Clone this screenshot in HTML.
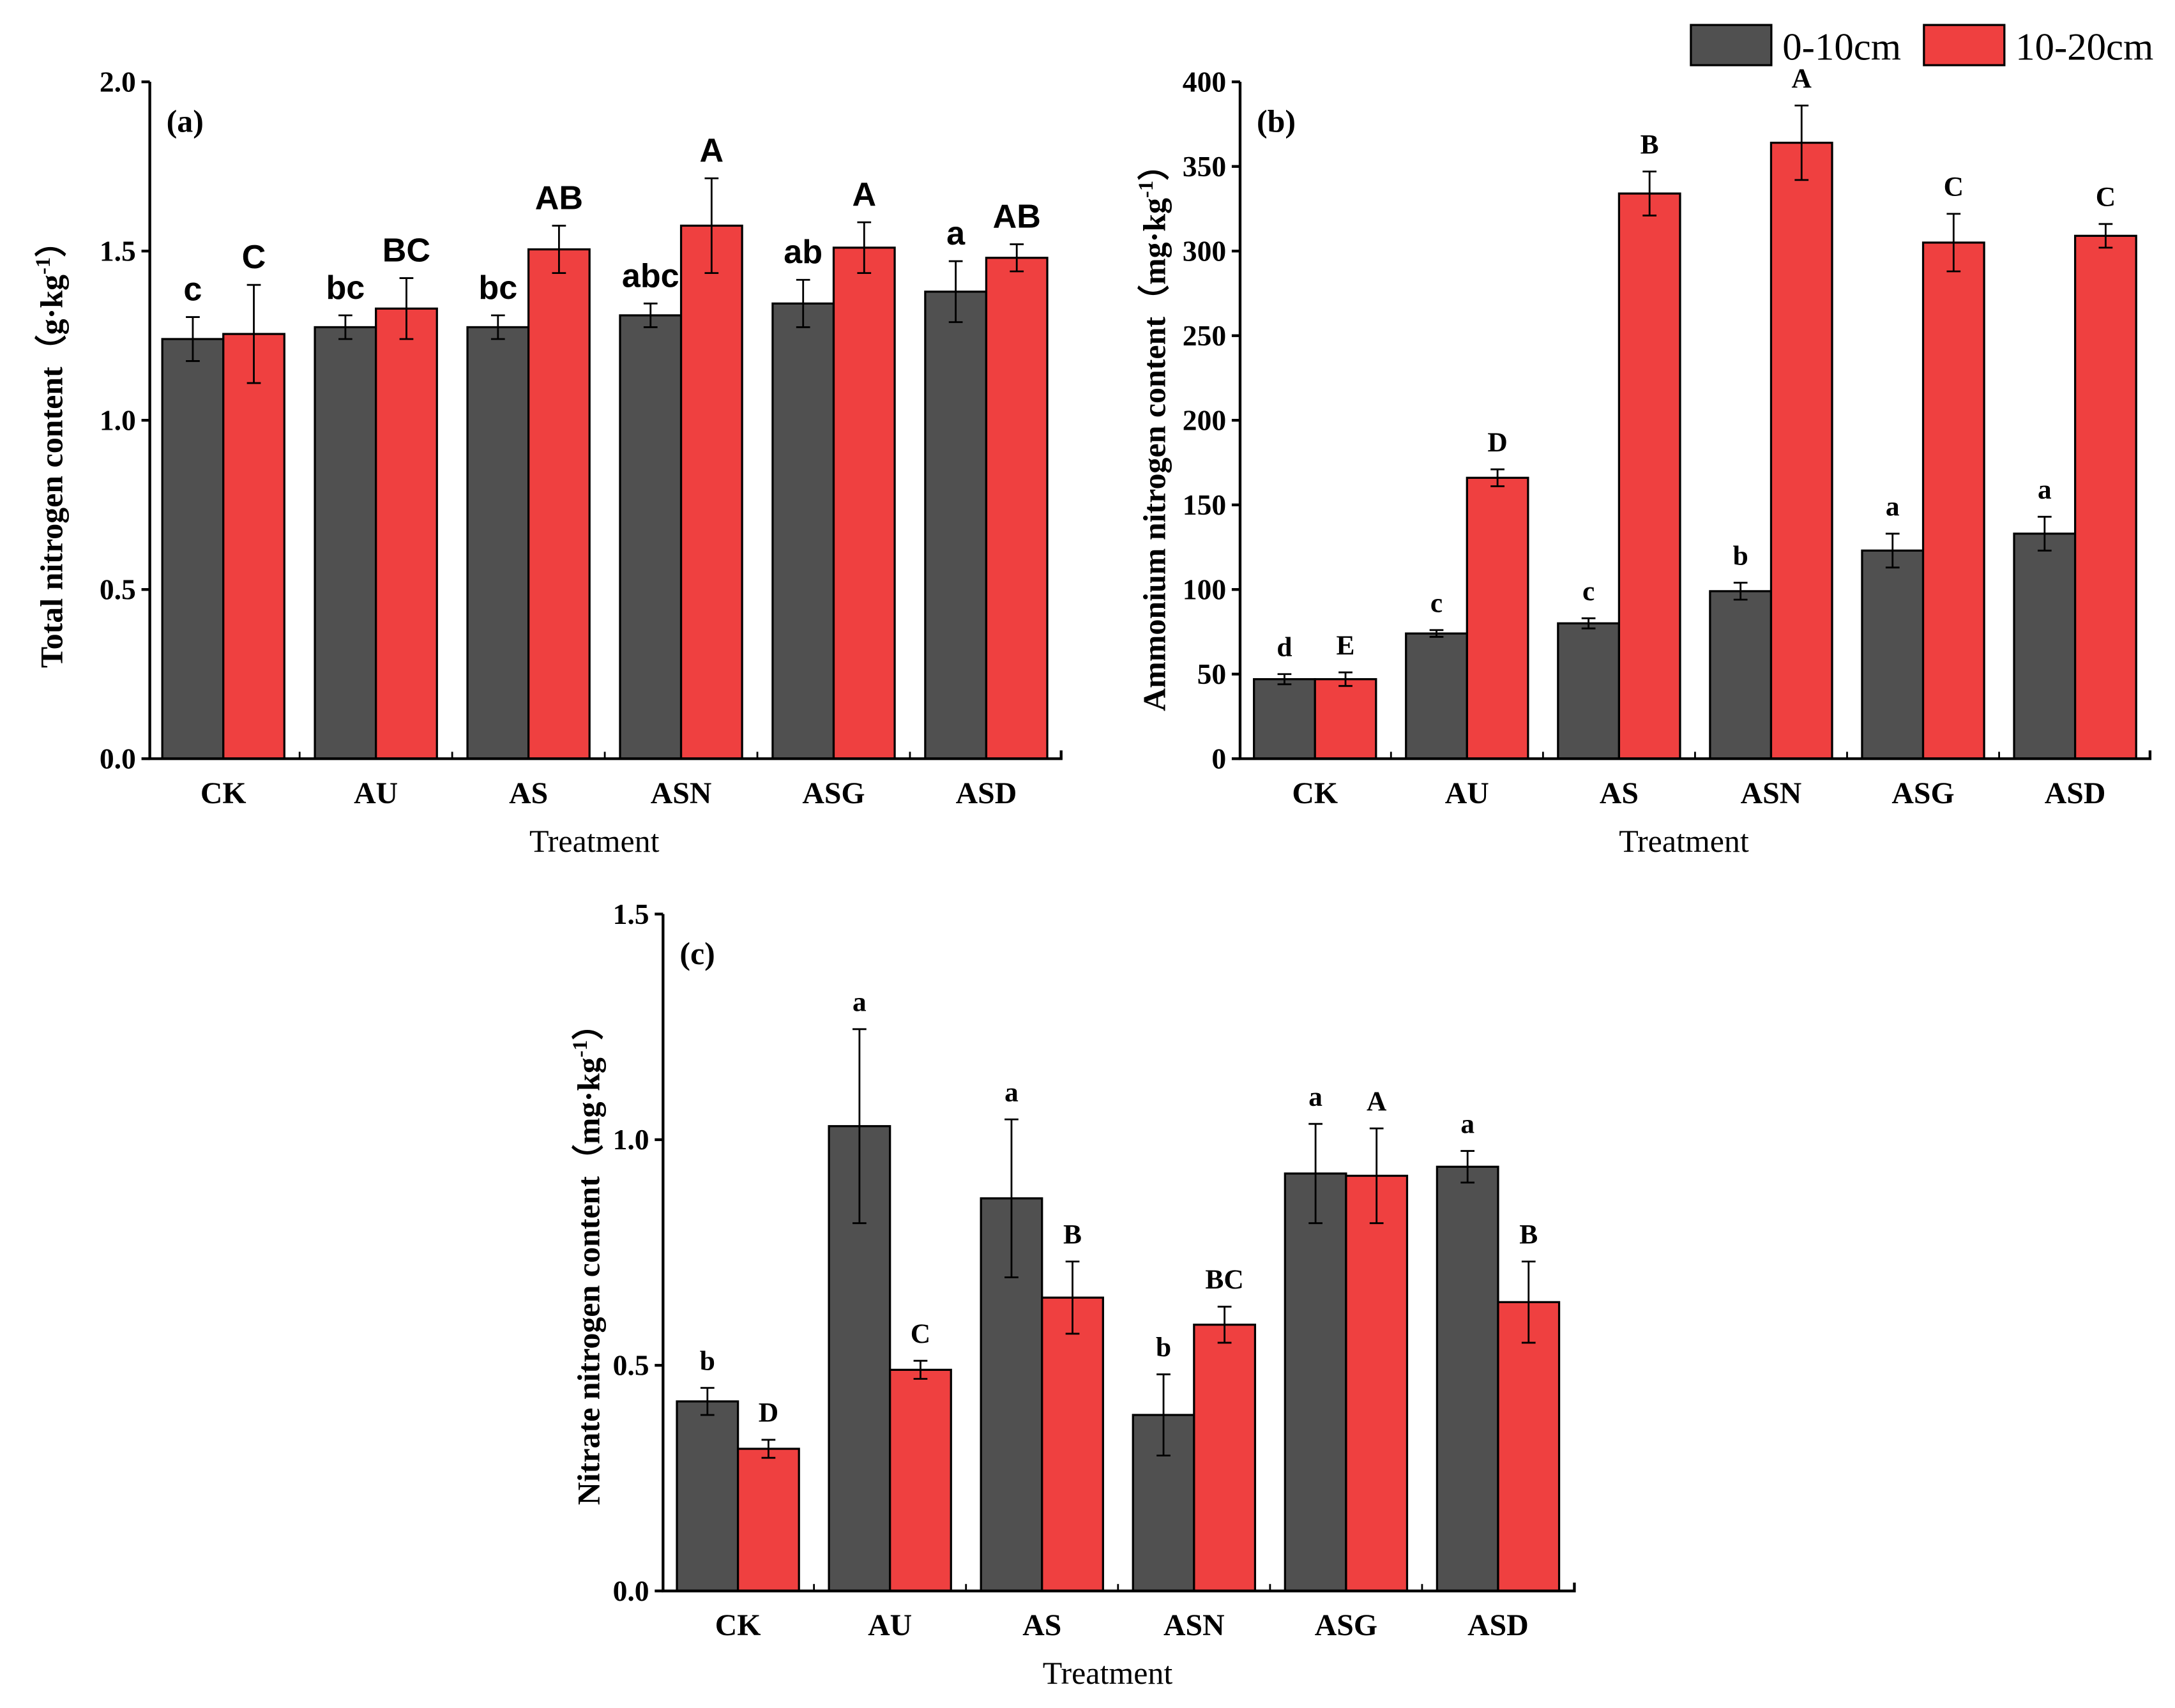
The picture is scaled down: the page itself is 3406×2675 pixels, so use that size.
<!DOCTYPE html>
<html><head><meta charset="utf-8"><style>
html,body{margin:0;padding:0;background:#fff}
svg{display:block}
text{fill:#000}
</style></head><body>
<svg id="fig" width="3406" height="2675" viewBox="0 0 1568 1231.4" preserveAspectRatio="none" xmlns="http://www.w3.org/2000/svg" font-family="Liberation Serif, serif">
<g>
<rect x="1219" y="18" width="58" height="29" fill="#505050" stroke="#000" stroke-width="1.5"/>
<text x="1285" y="43" font-size="28">0-10cm</text>
<rect x="1387" y="18" width="58" height="29" fill="#ef4040" stroke="#000" stroke-width="1.5"/>
<text x="1453" y="43" font-size="28">10-20cm</text>
</g>
</svg>
<script>
const categories=["CK","AU","AS","ASN","ASG","ASD"];
const aDark=[1.24,1.275,1.275,1.31,1.345,1.38];
const aDarkErr=[0.065,0.035,0.035,0.035,0.07,0.09];
const aRed=[1.255,1.33,1.505,1.575,1.51,1.48];
const aRedErr=[0.145,0.09,0.07,0.14,0.075,0.04];
const aDarkLet=["c","bc","bc","abc","ab","a"];
const aRedLet=["C","BC","AB","A","A","AB"];
const aTicks=["0.0","0.5","1.0","1.5","2.0"];
const bDark=[47,74,80,99,123,133];
const bDarkErr=[3,2,3,5,10,10];
const bRed=[47,166,334,364,305,309];
const bRedErr=[4,5,13,22,17,7];
const bDarkLet=["d","c","c","b","a","a"];
const bRedLet=["E","D","B","A","C","C"];
const bTicks=["0","50","100","150","200","250","300","350","400"];
const cDark=[0.42,1.03,0.87,0.39,0.925,0.94];
const cDarkErr=[0.03,0.215,0.175,0.09,0.11,0.035];
const cRed=[0.315,0.49,0.65,0.59,0.92,0.64];
const cRedErr=[0.02,0.02,0.08,0.04,0.105,0.09];
const cDarkLet=["b","a","a","b","a","a"];
const cRedLet=["D","C","B","BC","A","B"];
const cTicks=["0.0","0.5","1.0","1.5"];

const NS="http://www.w3.org/2000/svg";
const svg=document.getElementById('fig');
function mk(tag,attrs,parent,txt){const e=document.createElementNS(NS,tag);for(const k in attrs)e.setAttribute(k,attrs[k]);if(txt!==undefined)e.textContent=txt;parent.appendChild(e);return e;}

function panel(o){
  const g=mk('g',{},svg);
  
  
  const y=v=>o.y0-(v-o.min)/(o.max-o.min)*(o.y0-o.y1);
  const cx=i=>o.c0+i*o.step;
  const bw=44;
  for(let i=0;i<categories.length;i++){
    [[o.dark,o.dErr,o.dLet,'#505050',-bw,'dark'],[o.red,o.rErr,o.rLet,'#ef4040',0,'red']].forEach(s=>{
      const v=s[0][i],e=s[1][i],x=cx(i)+s[4];
      const r=mk('rect',{x:x,y:y(v),width:bw,height:o.y0-y(v),fill:s[3],stroke:'#000','stroke-width':1.5},g);
      
      
      const mx=x+bw/2;
      const eb=mk('path',{d:`M${mx-5},${y(v+e)}H${mx+5}M${mx},${y(v+e)}V${y(v-e)}M${mx-5},${y(v-e)}H${mx+5}`,stroke:'#000','stroke-width':1.3,fill:'none'},g);
      
      
      const t=mk('text',{x:mx,y:y(v+e)-o.letOff,'text-anchor':'middle','font-size':o.letSize,'font-weight':'bold',style:o.sansLet?"font-family:'Liberation Sans',sans-serif":"font-family:'Liberation Serif',serif"},g,s[2][i]);
      
      
    });
    const cl=mk('text',{x:cx(i),y:o.y0+32,'text-anchor':'middle','font-size':22,'font-weight':'bold'},g,categories[i]);
    
    
    if(i>0){const tk=mk('line',{x1:cx(i)-o.step/2,x2:cx(i)-o.step/2,y1:o.y0,y2:o.y0-5,stroke:'#000','stroke-width':1.3},g);
    
    }
  }
  const ax=mk('path',{d:`M${o.ax},${o.y1}V${o.y0}H${o.xEnd}V${o.y0-6}`,stroke:'#000','stroke-width':2,fill:'none'},g);
  
  
  o.ticks.forEach(tl=>{
    const v=parseFloat(tl);
    const tk=mk('line',{x1:o.ax-6,x2:o.ax,y1:y(v),y2:y(v),stroke:'#000','stroke-width':2},g);
    
    
    const t=mk('text',{x:o.ax-10,y:y(v)+7,'text-anchor':'end','font-size':21,'font-weight':'bold'},g,tl);
    
    
  });
  const pl=mk('text',{x:o.ax+12,y:o.y1+36,'font-size':23,'font-weight':'bold'},g,'('+o.id+')');
  
  
  const xt=mk('text',{x:(o.ax+o.xEnd)/2-8,y:o.y0+67,'text-anchor':'middle','font-size':23},g,'Treatment');
  
  
  const yt=mk('text',{transform:`translate(${o.ylx},${o.yly}) rotate(-90)`,'text-anchor':'middle','font-size':o.ytSize,'font-weight':'bold'},g);
  
  
  mk('tspan',{},yt,o.yTitle+'（'+o.unit+'·kg');
  mk('tspan',{dy:-9,'font-size':15},yt,'-1');
  mk('tspan',{dy:9},yt,'）');
}
panel({id:'a',ax:108,y0:547,y1:59,min:0,max:2,xEnd:765,c0:161,step:110,dark:aDark,dErr:aDarkErr,red:aRed,rErr:aRedErr,dLet:aDarkLet,rLet:aRedLet,ticks:aTicks,sansLet:true,letSize:24,letOff:12,yTitle:'Total nitrogen content',unit:'g',ylx:45,yly:322,ytSize:23});
panel({id:'b',ax:894,y0:547,y1:59,min:0,max:400,xEnd:1550,c0:948,step:109.6,dark:bDark,dErr:bDarkErr,red:bRed,rErr:bRedErr,dLet:bDarkLet,rLet:bRedLet,ticks:bTicks,sansLet:false,letSize:20,letOff:13,yTitle:'Ammonium nitrogen content',unit:'mg',ylx:840,yly:310,ytSize:23});
panel({id:'c',ax:478,y0:1147,y1:659,min:0,max:1.5,xEnd:1135,c0:532,step:109.6,dark:cDark,dErr:cDarkErr,red:cRed,rErr:cRedErr,dLet:cDarkLet,rLet:cRedLet,ticks:cTicks,sansLet:false,letSize:20,letOff:13,yTitle:'Nitrate nitrogen content',unit:'mg',ylx:432,yly:906,ytSize:23});
</script>
</body></html>
